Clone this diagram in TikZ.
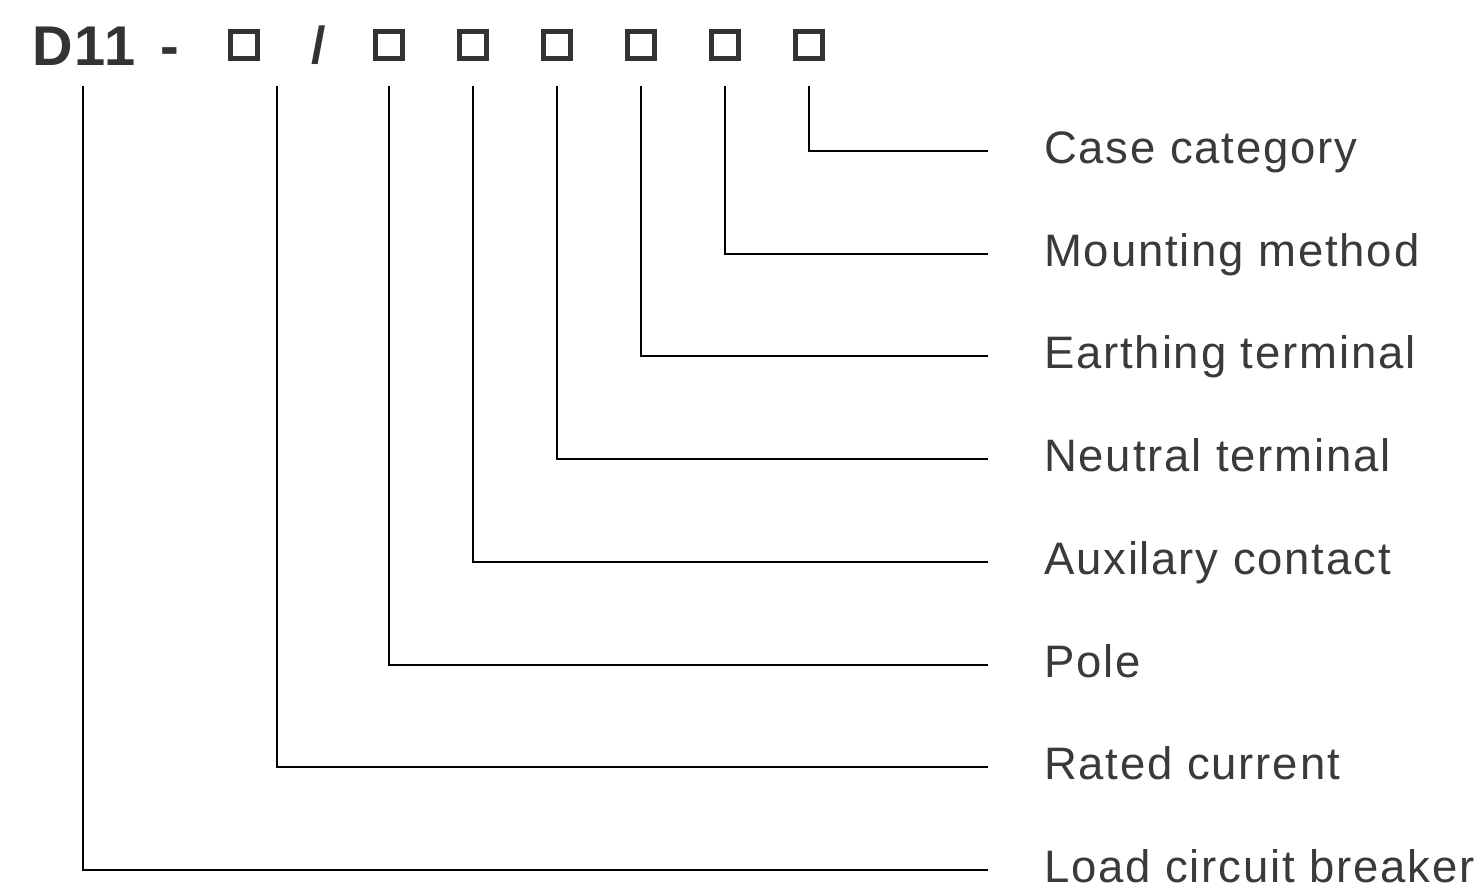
\documentclass[tikz,border=0pt]{standalone}
\usepackage{fontspec}
\setmainfont{Liberation Sans}
\newfontfamily\labfont[LetterSpace=4.0]{Liberation Sans}
\newfontfamily\hdrfont[LetterSpace=3.0]{Liberation Sans}
\definecolor{hdrgray}{HTML}{333333}
\definecolor{txtgray}{HTML}{3A3A3A}
\begin{document}
\begin{tikzpicture}[x=1pt,y=-1pt,
  lab/.style={anchor=base west, inner sep=0, text=txtgray, font=\labfont\fontsize{45.5}{50}\selectfont},
  boxnode/.style={draw=hdrgray, line width=5pt, minimum size=27pt, inner sep=0},
  hdr/.style={anchor=base west, inner sep=0, text=hdrgray, font=\hdrfont\bfseries\fontsize{56}{60}\selectfont},
  conn/.style={line width=2pt, black}]
\useasboundingbox[fill=white] (0,0) rectangle (1483,894);
% header
\node[hdr] (d11) at (32,65) {D11};
\node[hdr] (dash) at (160,65) {-};
\node[hdr, font=\bfseries\fontsize{52}{56}\selectfont] (slash) at (311,63) {/};
\foreach \cx [count=\k] in {244,389,472.5,557,641,725,808.5}
  \node[boxnode] (b\k) at (\cx,45) {};
% connectors and labels
\foreach \x/\y/\t [count=\i] in {
  808.5/151/Case category,
  725/253.7/Mounting method,
  641/356.4/Earthing terminal,
  557/459.1/Neutral terminal,
  473/561.8/Auxilary contact,
  389/664.5/Pole,
  277/767.2/Rated current,
  83/869.9/Load circuit breaker}{
  \coordinate (t\i) at (\x,86);
  \coordinate (e\i) at (988,\y);
  \node[lab] (l\i) at (1044,{\y+12.5}) {\t};
  \draw[conn] (t\i) |- (e\i);
}
\end{tikzpicture}
\end{document}
